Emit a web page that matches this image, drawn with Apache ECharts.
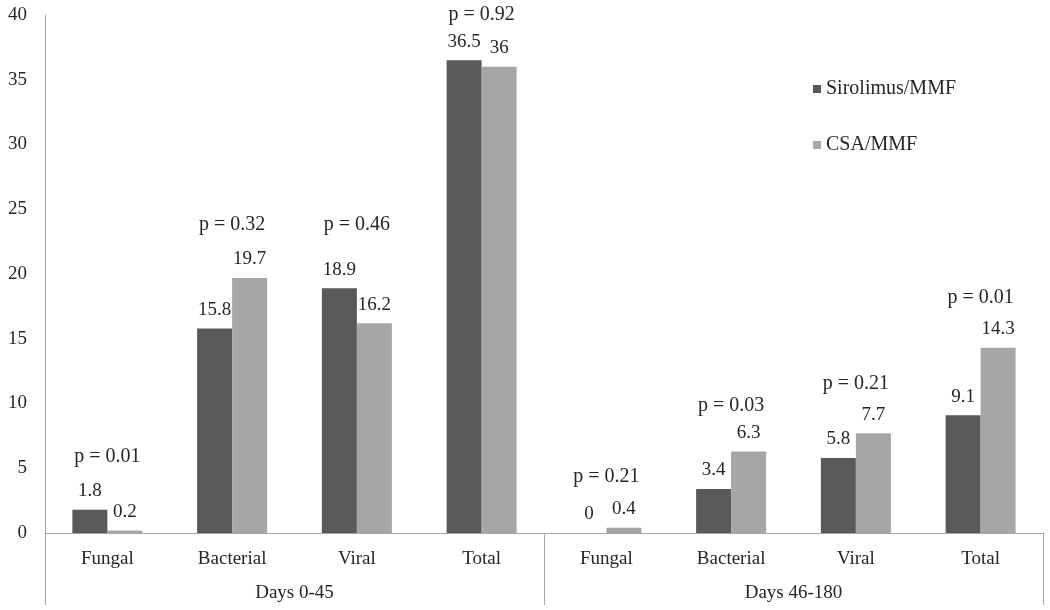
<!DOCTYPE html>
<html>
<head>
<meta charset="utf-8">
<script src="https://cdn.jsdelivr.net/npm/echarts@6/dist/echarts.min.js"></script>
<style>
html,body{margin:0;padding:0;background:#fff;}
#chart{width:1050px;height:610px;}
</style>
</head>
<body>
<div id="chart"></div>
<script>
const categories = ['Fungal', 'Bacterial', 'Viral', 'Total', 'Fungal', 'Bacterial', 'Viral', 'Total'];
const periods = ['Days 0-45', 'Days 46-180'];
const sirolimus = [1.8, 15.8, 18.9, 36.5, 0, 3.4, 5.8, 9.1];
const csa = [0.2, 19.7, 16.2, 36, 0.4, 6.3, 7.7, 14.3];
const pValues = ['0.01', '0.32', '0.46', '0.92', '0.21', '0.03', '0.21', '0.01'];
const seriesNames = ['Sirolimus/MMF', 'CSA/MMF'];

// layout: pixel lift of each p-value label above the taller bar
const pLift = [53, 53, 63, 46, 51, 46, 50, 50];

const FONT = 'Liberation Serif';
const TXT = '#262626';

const chart = echarts.init(document.getElementById('chart'));
const valueLabel = {
  show: true, position: 'top', distance: 9,
  fontFamily: FONT, fontSize: 19, color: TXT
};
const option = {
  animation: false,
  backgroundColor: '#ffffff',
  grid: { left: 45, right: 7, top: 15, bottom: 77, containLabel: false },
  legend: {
    data: seriesNames,
    orient: 'vertical',
    left: 808, top: 74,
    itemWidth: 8, itemHeight: 8, itemGap: 36, itemTextGap: 7,
    icon: 'rect',
    textStyle: { fontFamily: FONT, fontSize: 20, color: TXT }
  },
  xAxis: [
    {
      type: 'category', data: categories, position: 'bottom',
      axisLine: { show: true, lineStyle: { color: '#a6a6a6', width: 1 } },
      axisTick: { show: false },
      axisLabel: { margin: 17, fontFamily: FONT, fontSize: 19, color: TXT, interval: 0 }
    },
    {
      type: 'category', data: periods, position: 'bottom',
      axisLine: { show: false },
      axisTick: { show: true, length: 72, interval: 0, lineStyle: { color: '#a6a6a6', width: 1 } },
      axisLabel: { margin: 51, fontFamily: FONT, fontSize: 19, color: TXT, interval: 0 }
    }
  ],
  yAxis: {
    type: 'value', min: 0, max: 40, interval: 5,
    axisLine: { show: true, lineStyle: { color: '#a6a6a6', width: 1 } },
    axisTick: { show: false },
    splitLine: { show: false },
    axisLabel: { margin: 18, fontFamily: FONT, fontSize: 19, color: TXT }
  },
  series: [
    {
      name: seriesNames[0], type: 'bar', data: sirolimus,
      barWidth: 35, barGap: '0%',
      itemStyle: { color: '#595959' },
      label: valueLabel
    },
    {
      name: seriesNames[1], type: 'bar', data: csa,
      barWidth: 35, barGap: '0%',
      itemStyle: { color: '#a6a6a6' },
      label: valueLabel
    },
    {
      name: 'p', type: 'scatter', silent: true, symbolSize: 0,
      itemStyle: { opacity: 1 },
      data: sirolimus.map((v, i) => ({
        value: [i, Math.max(v, csa[i])],
        label: {
          show: true, position: 'inside', offset: [0, -pLift[i]],
          formatter: 'p = ' + pValues[i],
          fontFamily: FONT, fontSize: 20, color: TXT, opacity: 1
        }
      }))
    }
  ]
};
chart.setOption(option);
</script>
</body>
</html>
